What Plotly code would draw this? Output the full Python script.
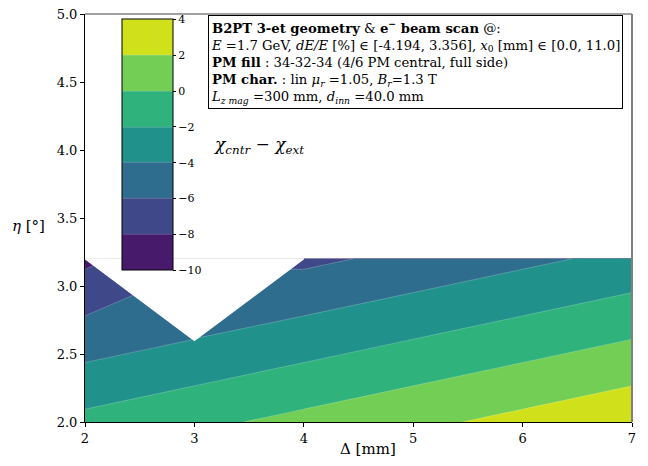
import plotly.graph_objects as go

# ---- data ----
delta_mm = [2, 3, 4, 5, 6, 7]
eta_deg = [2.0, 2.6, 3.2]
chi_diff = [
    [-1.45, -0.45, 0.55, 1.55, 2.55, 3.55],
    [-4.95, -3.95, -2.95, -1.95, -0.95, 0.05],
    [-8.45, None, -6.45, -5.45, -4.45, -3.45],
]
levels = [-10, -8, -6, -4, -2, 0, 2, 4]
band_colors = ["#471a6c", "#3f4889", "#2f6d8e", "#21918c", "#2fb27c", "#72ce55", "#d0e11c"]
x_ticks = [2, 3, 4, 5, 6, 7]
y_ticks = [2.0, 2.5, 3.0, 3.5, 4.0, 4.5, 5.0]

FONT = "DejaVu Serif"

# stepwise colorscale: one constant colour per band
n = len(band_colors)
cscale = []
for k, c in enumerate(band_colors):
    cscale.append([k / n, c])
    cscale.append([(k + 1) / n, c])

# page body has an 8px margin -> compensate so the plot lands where the reference is
OFF = 8
W, H = 648 - OFF, 466 - OFF
TOP_PX, BOT_PX, LEFT_PX = 14, 422, 85
L, T = LEFT_PX - OFF, TOP_PX - OFF
pw, ph = 547, BOT_PX - TOP_PX
R = W - L - pw
B = H - T - ph


def px_x(p):
    # p: x pixel in reference screenshot
    return (p - LEFT_PX) / pw


def px_y(p):
    # p: y pixel in reference screenshot
    return (BOT_PX - p) / ph


fig = go.Figure()
fig.add_trace(go.Contour(
    x=delta_mm, y=eta_deg, z=chi_diff,
    autocontour=False,
    contours=dict(start=levels[0], end=levels[-1], size=levels[1] - levels[0], coloring="fill"),
    zmin=levels[0], zmax=levels[-1],
    colorscale=cscale,
    line=dict(width=0.6, color="rgba(255,255,255,0.35)", smoothing=0),
    connectgaps=True,
    hoverinfo="skip",
    colorbar=dict(
        x=px_x(121.7), xanchor="left", xpad=0, ypad=0,
        y=px_y(19.3), yanchor="top",
        thickness=51, lenmode="pixels", len=251.4,
        outlinewidth=1, outlinecolor="black",
        tickvals=levels, ticks="outside", ticklen=3, tickcolor="black",
        tickfont=dict(family=FONT, size=11, color="black"),
        bgcolor="rgba(0,0,0,0)",
    ),
))

# mask the region around missing grid points (corner cut like the source)
for j, row in enumerate(chi_diff):
    for i, v in enumerate(row):
        if v is None:
            xs, ys = [], []
            if i > 0:
                xs.append(delta_mm[i - 1]); ys.append(eta_deg[j])
            if j > 0:
                xs.append(delta_mm[i]); ys.append(eta_deg[j - 1])
            if i < len(delta_mm) - 1:
                xs.append(delta_mm[i + 1]); ys.append(eta_deg[j])
            if j < len(eta_deg) - 1:
                xs.append(delta_mm[i]); ys.append(eta_deg[j + 1])
            fig.add_trace(go.Scatter(x=xs + xs[:1], y=ys + ys[:1], fill="toself",
                                     fillcolor="white", mode="lines",
                                     line=dict(color="white", width=1.2),
                                     hoverinfo="skip", showlegend=False))

fig.update_layout(
    width=W, height=H,
    margin=dict(l=L, r=R, t=T, b=B, autoexpand=False),
    paper_bgcolor="white", plot_bgcolor="white",
    font=dict(family=FONT, color="black"),
    showlegend=False,
    xaxis=dict(range=[2, 7], tickvals=x_ticks, ticks="outside", ticklen=4, tickcolor="black",
               showline=True, linecolor="black", linewidth=1, showgrid=False, zeroline=False,
               ticklabeloverflow="allow",
               tickfont=dict(family=FONT, size=13)),
    yaxis=dict(range=[2.0, 5.0], tickvals=y_ticks, ticktext=[f"{v:.1f}" for v in y_ticks],
               ticks="outside", ticklen=4, tickcolor="black",
               showline=True, linecolor="black", linewidth=1, showgrid=False, zeroline=False,
               ticklabeloverflow="allow",
               tickfont=dict(family=FONT, size=13)),
    shapes=[
        dict(type="line", xref="paper", yref="paper", x0=0, x1=1, y0=1, y1=1,
             line=dict(color="#808080", width=1.5)),
        dict(type="line", xref="paper", yref="paper", x0=1, x1=1, y0=0, y1=1,
             line=dict(color="#808080", width=2)),
    ],
)

info = ("<b>B2PT 3-et geometry</b> &amp; <b>e<sup>−</sup> beam scan</b> @:<br>"
        "<i>E</i> =1.7 GeV, <i>dE/E</i> [%] ∈ [-4.194, 3.356], <i>x</i><sub>0</sub> [mm] ∈ [0.0, 11.0]<br>"
        "<b>PM fill</b> : 34-32-34 (4/6 PM central, full side)<br>"
        "<b>PM char.</b> : lin <i>μ<sub>r</sub></i> =1.05, <i>B<sub>r</sub></i>=1.3 T<br>"
        "<i>L<sub>z mag</sub></i> =300 mm, <i>d<sub>inn</sub></i> =40.0 mm")

fig.add_annotation(xref="paper", yref="paper", x=px_x(208), y=px_y(15),
                   xanchor="left", yanchor="top", align="left", showarrow=False,
                   text=info, font=dict(family=FONT, size=13.2, color="black"),
                   bordercolor="black", borderwidth=1, borderpad=2, bgcolor="white")
fig.add_annotation(xref="paper", yref="paper", x=px_x(212), y=px_y(146),
                   xanchor="left", yanchor="middle", showarrow=False,
                   text="<i>χ<sub>cntr</sub> − χ<sub>ext</sub></i>",
                   font=dict(family=FONT, size=17, color="black"))
fig.add_annotation(xref="paper", yref="paper", x=px_x(47), y=px_y(226),
                   xanchor="right", yanchor="middle", showarrow=False,
                   text="<i>η</i> [°]", font=dict(family=FONT, size=15, color="black"))
fig.add_annotation(xref="paper", yref="paper", x=px_x(368), y=px_y(449),
                   xanchor="center", yanchor="middle", showarrow=False,
                   text="Δ [mm]", font=dict(family=FONT, size=15, color="black"))

fig.write_html("out.html")
